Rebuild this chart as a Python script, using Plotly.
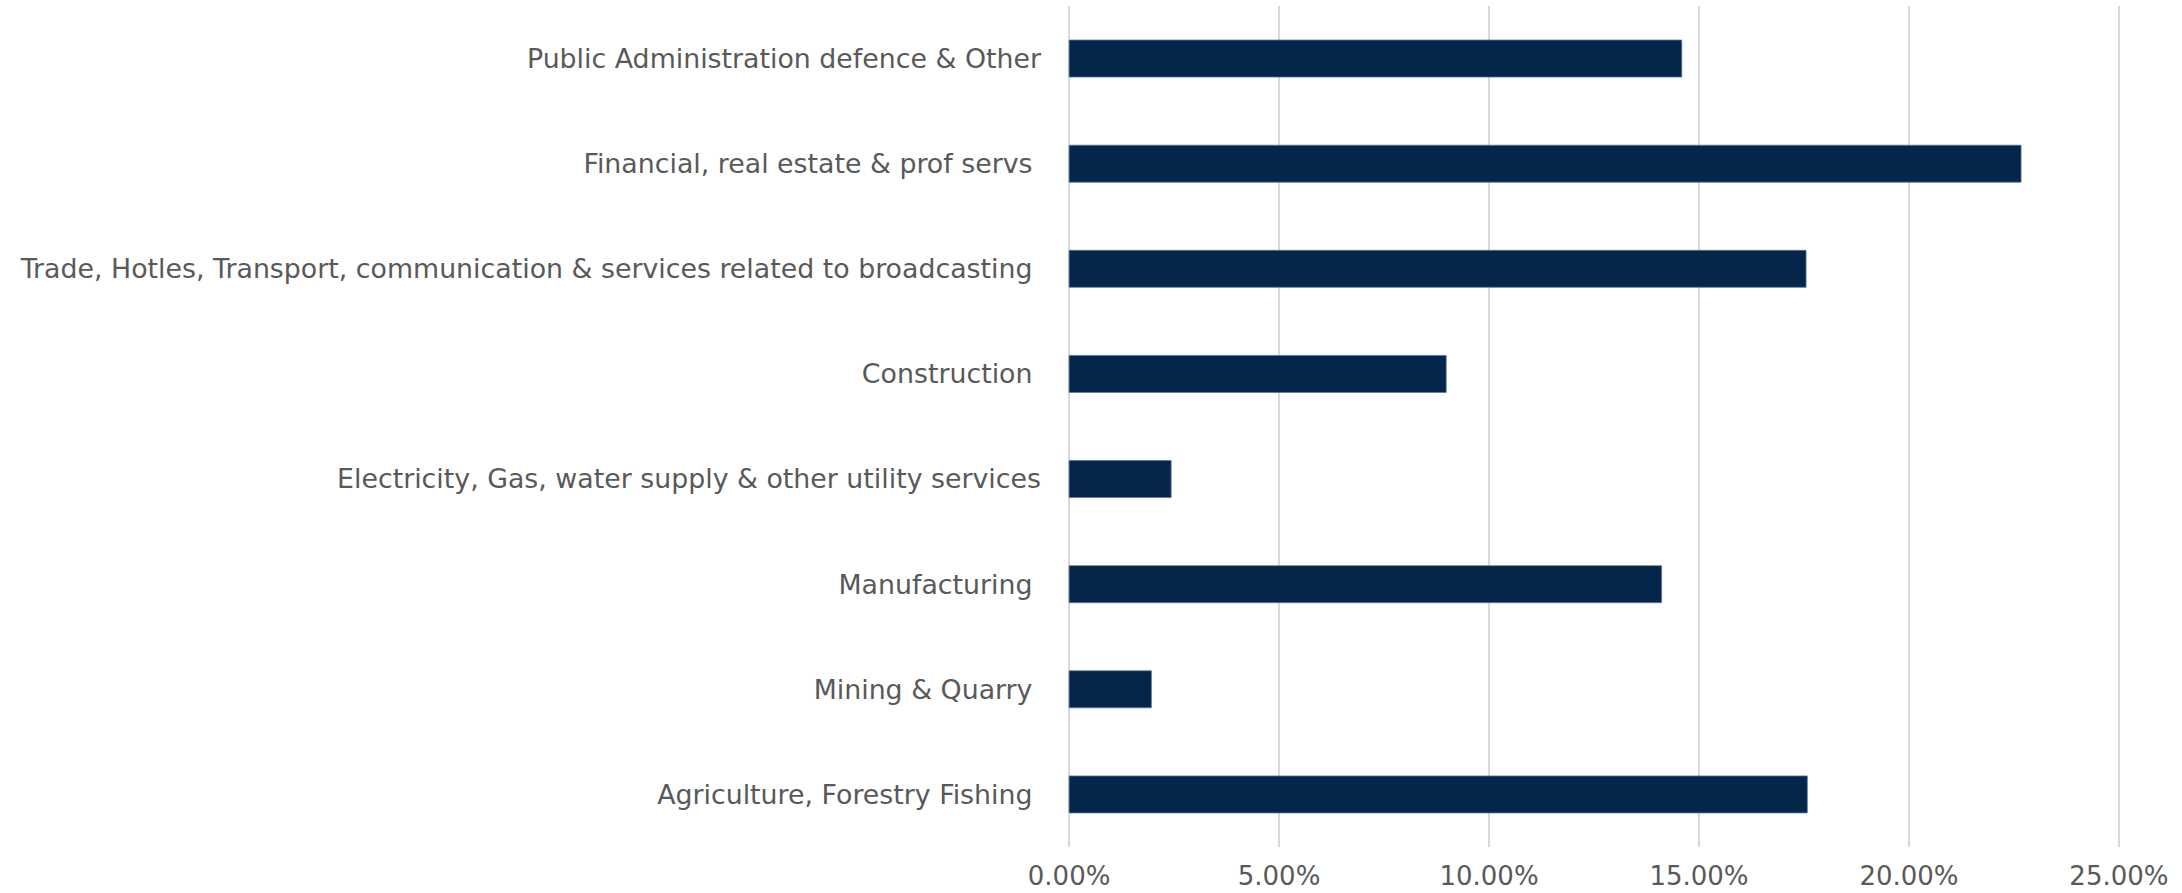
import plotly.graph_objects as go

# Sector shares, listed bottom to top as drawn on the category axis
sectors = [
    "Agriculture, Forestry Fishing\u00a0",
    "Mining & Quarry\u00a0",
    "Manufacturing\u00a0",
    "Electricity, Gas, water supply & other utility services",
    "Construction\u00a0",
    "Trade, Hotles, Transport, communication & services related to broadcasting\u00a0",
    "Financial, real estate & prof servs\u00a0",
    "Public Administration defence & Other",
]
shares = [0.1758, 0.0196, 0.1411, 0.0243, 0.0898, 0.1755, 0.2267, 0.1459]

tick_vals = [0, 0.05, 0.10, 0.15, 0.20, 0.25]
tick_text = ["0.00%", "5.00%", "10.00%", "15.00%", "20.00%", "25.00%"]

BAR_COLOR = "#03264A"
TEXT_COLOR = "#595959"
GRID_COLOR = "#D9D9D9"
FONT = "DejaVu Sans, Verdana, sans-serif"

fig = go.Figure(
    go.Bar(
        x=shares,
        y=sectors,
        orientation="h",
        marker=dict(color=BAR_COLOR, line=dict(color="#5E7692", width=0.8)),
        hoverinfo="x+y",
    )
)

fig.update_layout(
    width=2182,
    height=893,
    margin=dict(l=1067, r=61, t=6, b=46),
    paper_bgcolor="white",
    plot_bgcolor="white",
    bargap=0.648,
    showlegend=False,
    font=dict(family=FONT, size=26.8, color=TEXT_COLOR),
)

# range padded slightly so the 0% and 25% gridlines are not clipped at the edges
fig.update_xaxes(
    range=[-0.0005, 0.2505],
    tickvals=tick_vals,
    ticktext=tick_text,
    showgrid=True,
    gridcolor=GRID_COLOR,
    gridwidth=1.5,
    zeroline=False,
    showline=False,
    ticks="",
    ticklabelstandoff=11,
    automargin=False,
    tickfont=dict(family=FONT, size=26, color=TEXT_COLOR),
)

fig.update_yaxes(
    type="category",
    categoryorder="array",
    categoryarray=sectors,
    showgrid=False,
    zeroline=False,
    showline=False,
    ticks="",
    ticklabelstandoff=25,
    automargin=False,
    tickfont=dict(family=FONT, size=26.8, color=TEXT_COLOR),
)

fig.write_html("out.html")
